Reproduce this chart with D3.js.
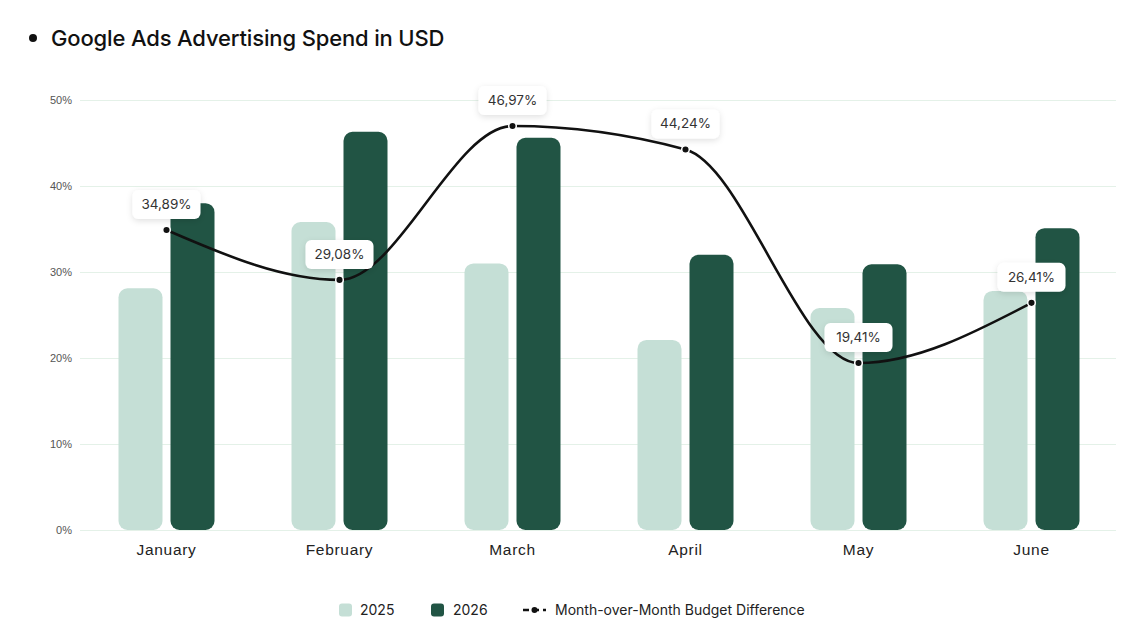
<!DOCTYPE html>
<html>
<head>
<meta charset="utf-8">
<script src="https://cdn.jsdelivr.net/npm/d3@7"></script>
<style>
  body { margin: 0; background: #fff; }
  svg { display: block; font-family: Inter, "Noto Sans", sans-serif; }
  .tick-y text { fill: #555; font-size: 11px; }
  .tick-x text { fill: #222; font-size: 15.5px; letter-spacing: 0.7px; }
</style>
</head>
<body>
<svg id="chart"></svg>
<script>
var months = ["January", "February", "March", "April", "May", "June"];
var spend2025 = [28.1, 35.8, 31.0, 22.1, 25.8, 27.8];
var spend2026 = [38.0, 46.3, 45.6, 32.0, 30.9, 35.1];
var momDiff = [34.89, 29.08, 46.97, 44.24, 19.41, 26.41];
var yTicks = [0, 10, 20, 30, 40, 50];

var colors = { y2025: "#c5dfd6", y2026: "#215444", line: "#111111", grid: "#e4f1e8" };

var svgWidth = 1148, svgHeight = 623;
var margin = { top: 100, right: 30, bottom: 93, left: 80 };
var width = svgWidth - margin.left - margin.right;
var height = svgHeight - margin.top - margin.bottom;

var svg = d3.select("#chart")
  .attr("width", svgWidth)
  .attr("height", svgHeight);

// shadow for the value labels
var defs = svg.append("defs");
var filter = defs.append("filter").attr("id", "shadow")
  .attr("x", "-30%").attr("y", "-40%").attr("width", "160%").attr("height", "200%");
filter.append("feDropShadow")
  .attr("dx", 0).attr("dy", 2).attr("stdDeviation", 3)
  .attr("flood-color", "#000").attr("flood-opacity", 0.12);

// title
svg.append("circle").attr("cx", 33).attr("cy", 38).attr("r", 4).attr("fill", "#111");
svg.append("text")
  .attr("x", 51).attr("y", 46)
  .attr("font-size", 22).attr("font-weight", 550).attr("fill", "#111")
  .attr("letter-spacing", "-0.15")
  .text("Google Ads Advertising Spend in USD");

var chart = svg.append("g")
  .attr("transform", `translate(${margin.left}, ${margin.top})`);

var x = d3.scaleBand().domain(months).range([0, width]).padding(0);
var y = d3.scaleLinear().domain([0, 50]).range([height, 0]);

// grid lines + y labels
chart.append("g")
  .attr("class", "tick-y")
  .call(d3.axisLeft(y).tickValues(yTicks).tickSize(-width + 2).tickPadding(8)
    .tickFormat(function(d) { return d + "%"; }))
  .call(function(g) {
    g.select(".domain").remove();
    g.selectAll("line").attr("stroke", colors.grid);
  });

// x labels
chart.append("g")
  .attr("class", "tick-x")
  .attr("transform", "translate(0," + height + ")")
  .call(d3.axisBottom(x).tickSize(0).tickPadding(14))
  .call(function(g) { g.select(".domain").remove(); });

// bars
var barW = 44, offset = 26;
var r = 9;
function barPath(cx, v) {
  var x0 = cx - barW / 2, y0 = y(v), h = height - y0;
  return "M" + x0 + "," + (y0 + r) +
    "a" + r + "," + r + " 0 0 1 " + r + "," + (-r) +
    "h" + (barW - 2 * r) +
    "a" + r + "," + r + " 0 0 1 " + r + "," + r +
    "v" + (h - 2 * r) +
    "a" + r + "," + r + " 0 0 1 " + (-r) + "," + r +
    "h" + (-(barW - 2 * r)) +
    "a" + r + "," + r + " 0 0 1 " + (-r) + "," + (-r) + "Z";
}

chart.selectAll(".bar2025")
  .data(months)
  .enter().append("path")
  .attr("fill", colors.y2025)
  .attr("d", function(d, i) { return barPath(x(d) + x.bandwidth() / 2 - offset, spend2025[i]); });

chart.selectAll(".bar2026")
  .data(months)
  .enter().append("path")
  .attr("fill", colors.y2026)
  .attr("d", function(d, i) { return barPath(x(d) + x.bandwidth() / 2 + offset, spend2026[i]); });

// line
var linePts = months.map(function(m, i) { return { m: m, v: momDiff[i] }; });
var line = d3.line()
  .curve(d3.curveMonotoneX)
  .x(function(d) { return x(d.m) + x.bandwidth() / 2; })
  .y(function(d) { return y(d.v); });

chart.append("path")
  .datum(linePts)
  .attr("fill", "none")
  .attr("stroke", colors.line)
  .attr("stroke-width", 2.6)
  .attr("d", line);

chart.selectAll(".pt")
  .data(linePts)
  .enter().append("circle")
  .attr("cx", function(d) { return x(d.m) + x.bandwidth() / 2; })
  .attr("cy", function(d) { return y(d.v); })
  .attr("r", 3.8)
  .attr("fill", colors.line)
  .attr("stroke", "#fff")
  .attr("stroke-width", 1.5);

// value labels
var fmt = function(v) { return v.toFixed(2).replace(".", ",") + "%"; };
var lbl = chart.selectAll(".lbl")
  .data(linePts)
  .enter().append("g")
  .attr("transform", function(d) {
    return "translate(" + (x(d.m) + x.bandwidth() / 2) + "," + (y(d.v) - 26) + ")";
  });
lbl.append("rect")
  .attr("x", -34).attr("y", -14).attr("width", 68).attr("height", 29).attr("rx", 6)
  .attr("fill", "#fff")
  .attr("filter", "url(#shadow)");
lbl.append("text")
  .attr("text-anchor", "middle")
  .attr("dy", "0.36em")
  .attr("font-size", 13.5)
  .attr("fill", "#333")
  .text(function(d) { return fmt(d.v); });

// legend
var legend = svg.append("g").attr("transform", "translate(0,610)");
legend.append("rect").attr("x", 339).attr("y", -6.5).attr("width", 13).attr("height", 13).attr("rx", 3).attr("fill", colors.y2025);
legend.append("text").attr("x", 360).attr("dy", "0.35em").attr("font-size", 14).attr("fill", "#222").text("2025");
legend.append("rect").attr("x", 431).attr("y", -6.5).attr("width", 13).attr("height", 13).attr("rx", 3).attr("fill", colors.y2026);
legend.append("text").attr("x", 453).attr("dy", "0.35em").attr("font-size", 14).attr("fill", "#222").text("2026");
legend.append("line").attr("x1", 523).attr("x2", 546).attr("stroke", colors.line).attr("stroke-width", 2.5).attr("stroke-dasharray", "6,4");
legend.append("circle").attr("cx", 534.5).attr("r", 3).attr("fill", colors.line);
legend.append("text").attr("x", 555).attr("dy", "0.35em").attr("font-size", 14).attr("fill", "#222").text("Month-over-Month Budget Difference");
</script>
</body>
</html>
